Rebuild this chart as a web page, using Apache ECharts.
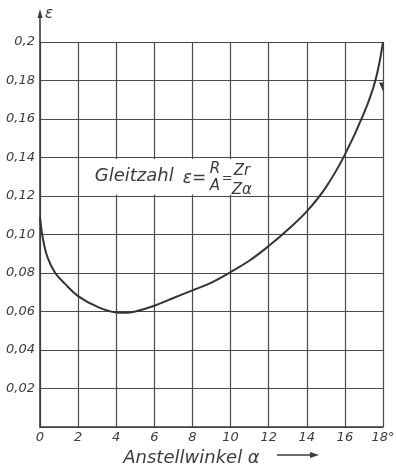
<!DOCTYPE html>
<html>
<head>
<meta charset="utf-8">
<script src="https://cdn.jsdelivr.net/npm/echarts@6/dist/echarts.min.js"></script>
<style>
    html, body { margin: 0; padding: 0; background: #fff; }
    #chart { width: 396px; height: 468px; }
</style>
</head>
<body>
<div id="chart"></div>
<script>
// Anstellwinkel alpha (deg) and Gleitzahl epsilon
const alphaValues = [0, 0.15, 0.4, 0.8, 1.3, 2, 3, 4, 4.5, 5, 6, 7, 8, 9, 10, 11, 12, 13, 14, 15, 16, 17, 17.6, 18];
const epsValues = [0.109, 0.098, 0.088, 0.080, 0.0745, 0.068, 0.0625, 0.0595, 0.0593, 0.060, 0.063, 0.067, 0.071, 0.075, 0.0805, 0.0865, 0.094, 0.1025, 0.112, 0.1245, 0.1415, 0.163, 0.18, 0.2];

const xTickLabels = ['0', '2', '4', '6', '8', '10', '12', '14', '16', '18°'];
const yTickLabels = ['', '0,02', '0,04', '0,06', '0,08', '0,10', '0,12', '0,14', '0,16', '0,18', '0,2'];

(function () {
    const el = document.getElementById('chart');
    const chart = echarts.init(el, null, { renderer: 'canvas' });
    const ink = '#3c3c3c';
    const font = 'DejaVu Sans';

    const points = alphaValues.map(function (a, i) { return [a, epsValues[i]]; });

    chart.setOption({
        animation: false,
        backgroundColor: '#fff',
        grid: { left: 40, right: 13, top: 42, bottom: 41, containLabel: false, outerBoundsMode: 'none' },
        xAxis: {
            type: 'value',
            min: 0,
            max: 18,
            interval: 2,
            name: 'Anstellwinkel α',
            nameLocation: 'middle',
            nameGap: 19,
            nameTextStyle: { fontFamily: font, fontStyle: 'italic', fontSize: 18, color: ink, padding: [0, 40, 0, 0] },
            axisLine: { lineStyle: { color: ink, width: 1.6 } },
            axisTick: { show: false },
            axisLabel: {
                margin: 4,
                fontFamily: font,
                fontStyle: 'italic',
                fontSize: 13,
                color: ink,
                formatter: function (v) { return xTickLabels[Math.round(v / 2)]; }
            },
            splitLine: { show: true, lineStyle: { color: '#4a4a4a', width: 1.2 } }
        },
        yAxis: {
            type: 'value',
            min: 0,
            max: 0.2,
            interval: 0.02,
            axisLine: { show: true, lineStyle: { color: ink, width: 1.6 } },
            axisTick: { show: false },
            axisLabel: {
                margin: 5,
                fontFamily: font,
                fontStyle: 'italic',
                fontSize: 13,
                color: ink,
                formatter: function (v) { return yTickLabels[Math.round(v / 0.02)]; }
            },
            splitLine: { show: true, lineStyle: { color: '#4a4a4a', width: 1.2 } }
        },
        series: [{
            type: 'line',
            data: points,
            smooth: 0.4,
            showSymbol: false,
            symbol: 'none',
            lineStyle: { color: '#333', width: 2 },
            z: 5
        }]
    });

    /*decorations: axis arrow, epsilon label, formula box*/
    const px = function (a, e) { return chart.convertToPixel({ gridIndex: 0 }, [a, e]); };
    const top = px(0, 0.2);
    const boxA = px(2.45, 0.1392);
    const boxB = px(11.7, 0.1208);
    const mid = (boxA[1] + boxB[1]) / 2;
    const bx = boxA[0];
    const tickMark = px(18, 0.18);
    const arrowY = el.clientHeight - 13;

    const label = function (txt, size, x, y) {
        return {
            type: 'text', z: 10, x: x, y: y,
            style: { text: txt, fontFamily: font, fontStyle: 'italic', fontSize: size, fill: ink, verticalAlign: 'middle' }
        };
    };

    chart.setOption({
        graphic: [
            { type: 'line', z: 10, shape: { x1: top[0], y1: top[1], x2: top[0], y2: top[1] - 28 }, style: { stroke: ink, lineWidth: 1.6 } },
            { type: 'polygon', z: 10, shape: { points: [[top[0] - 2.5, top[1] - 24], [top[0] + 2.5, top[1] - 24], [top[0], top[1] - 33]] }, style: { fill: ink } },
            label('ε', 15, top[0] + 5, top[1] - 28),
            { type: 'polygon', z: 10, shape: { points: [[tickMark[0] - 4, tickMark[1] + 2], [tickMark[0], tickMark[1] + 2], [tickMark[0], tickMark[1] + 11]] }, style: { fill: ink } },
            { type: 'line', z: 10, shape: { x1: 277, y1: arrowY, x2: 314, y2: arrowY }, style: { stroke: ink, lineWidth: 1.4 } },
            { type: 'polygon', z: 10, shape: { points: [[310, arrowY - 3], [319, arrowY], [310, arrowY + 3]] }, style: { fill: ink } },
            { type: 'rect', z: 8, shape: { x: boxA[0], y: boxA[1], width: boxB[0] - boxA[0], height: boxB[1] - boxA[1] }, style: { fill: '#fff' } },
            label('Gleitzahl', 18, bx + 8, mid),
            label('ε=', 17, bx + 96, mid + 2),
            label('R', 15, bx + 123, mid - 8),
            label('A', 15, bx + 123, mid + 9),
            label('=', 13, bx + 135, mid + 2),
            label('Zr', 15, bx + 147, mid - 6),
            label('Zα', 15, bx + 145, mid + 13)
        ]
    });

    window.addEventListener('resize', chart.resize.bind(chart));
})();
</script>
</body>
</html>
